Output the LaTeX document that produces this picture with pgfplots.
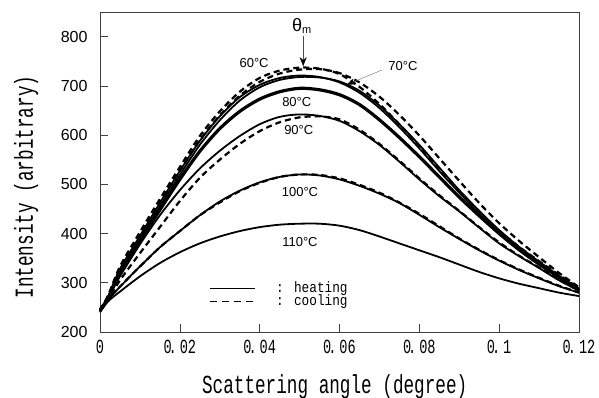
\documentclass[border=0pt]{standalone}
\usepackage{pgfplots}
\pgfplotsset{compat=1.18}
\usepackage{pgfplotstable}
\usetikzlibrary{arrows.meta}
\usepackage{fontspec}
\setmainfont{Liberation Sans}
\newfontfamily\goth[FakeStretch=0.68]{Liberation Mono}
\newfontfamily\gothl[FakeStretch=0.85]{Liberation Mono}

\pgfplotstableread{
x     h60  c60  h70  c70  h80  h90  c90  h100 c100 h110
0     245  245  245  245  245  243  243  242  242  240
0.002 272  274  270  272  268  268  265  265  265  262
0.005 328  333  325  328  322  313  305  292  292  282
0.01  395  403  390  395  385  378  360  333  333  313
0.015 462  470  455  462  448  437  413  372  372  340
0.02  527  535  519  527  510  488  466  405  405  362
0.025 588  598  580  590  567  532  513  437  437  380
0.03  638  648  630  640  613  568  550  465  463  394
0.035 677  688  670  680  648  598  582  487  486  405
0.04  702  716  697  708  673  622  608  504  503  413
0.045 716  731  712  725  688  637  626  515  515  418
0.05  721  737  718  733  695  642  636  520  520  420
0.055 718  735  717  734  692  639  638  518  519  420
0.06  707  724  709  726  682  629  632  510  512  416
0.065 686  698  690  707  662  608  611  497  499  407
0.07  655  663  660  678  631  580  582  481  483  394
0.075 616  622  622  641  595  546  548  462  463  380
0.08  573  578  580  599  556  510  512  438  440  366
0.085 527  532  534  553  515  476  478  413  415  352
0.09  483  487  488  507  474  445  446  389  390  337
0.095 441  445  446  462  436  412  413  366  367  322
0.1   403  406  407  421  400  380  382  345  346  309
0.105 370  373  373  385  367  354  355  326  327  298
0.11  341  344  343  352  338  330  331  309  310  289
0.115 313  316  314  320  311  305  306  293  294  280
0.12  287  289  288  291  286  284  284  280  280  273
}\data

\begin{document}
\begin{tikzpicture}
\begin{axis}[
  scale only axis, width=479pt, height=320pt,
  at={(0,0)}, anchor=south west,
  xmin=0, xmax=0.12, ymin=200, ymax=850,
  xtick={0,0.02,0.04,0.06,0.08,0.1,0.12},
  xticklabels={0,0\kern-0.15em.\kern0.15em02,0\kern-0.15em.\kern0.15em04,0\kern-0.15em.\kern0.15em06,0\kern-0.15em.\kern0.15em08,0\kern-0.15em.\kern0.15em1,0\kern-0.15em.\kern0.15em12},
  ytick={200,300,400,500,600,700,800},
  tick align=inside, xtick pos=bottom, ytick pos=left,
  major tick length=8pt,
  axis line style={black!75, line width=0.6pt},
  tick style={black!75, line width=0.6pt},
  /pgf/number format/assume math mode=true,
  yticklabel style={font=\fontsize{16}{16}\selectfont, xshift=-9pt},
  xticklabel style={font=\goth\fontsize{20}{20}\selectfont, yshift=-5pt},
  xlabel={Scattering angle (degree)},
  ylabel={Intensity (arbitrary)},
  xlabel style={font=\goth\fontsize{26}{26}\selectfont, at={(axis description cs:0.49,0)}, anchor=base, yshift=-61pt},
  ylabel style={font=\goth\fontsize{26}{26}\selectfont, at={(axis description cs:0,0.453)}, anchor=base, rotate=0, yshift=67pt},
  clip=false,
]
\addplot[black, line width=1.8pt, smooth] table[x=x,y=h110] {\data};
\addplot[black, line width=1.8pt, smooth] table[x=x,y=h100] {\data};
\addplot[black, line width=2.2pt, smooth, dash pattern=on 6pt off 4pt] table[x=x,y=c100] {\data};
\addplot[black, line width=1.8pt, smooth] table[x=x,y=h90] {\data};
\addplot[black, line width=2.2pt, smooth, dash pattern=on 6pt off 4pt] table[x=x,y=c90] {\data};
\addplot[black, line width=3.2pt, smooth] table[x=x,y=h80] {\data};
\addplot[black, line width=1.8pt, smooth] table[x=x,y=h70] {\data};
\addplot[black, line width=2.2pt, smooth, dash pattern=on 6pt off 4pt] table[x=x,y=c70] {\data};
\addplot[black, line width=1.8pt, smooth] table[x=x,y=h60] {\data};
\addplot[black, line width=2.2pt, smooth, dash pattern=on 6pt off 4pt] table[x=x,y=c60] {\data};

\node[font=\fontsize{13}{13}\selectfont] at (axis cs:0.0386,746) {60°C};
\node[font=\fontsize{13}{13}\selectfont] at (axis cs:0.0759,740) {70°C};
\node[font=\fontsize{13}{13}\selectfont] at (axis cs:0.0493,667) {80°C};
\node[font=\fontsize{13}{13}\selectfont] at (axis cs:0.0498,610) {90°C};
\node[font=\fontsize{13}{13}\selectfont] at (axis cs:0.0501,484) {100°C};
\node[font=\fontsize{13}{13}\selectfont] at (axis cs:0.0501,383) {110°C};
\node[font=\fontsize{18}{18}\selectfont] at (axis cs:0.0506,822) {θ\textsubscript{\fontsize{11}{11}\selectfont m}};
\draw[black!70, line width=0.4pt, -{Stealth[length=9pt,width=7pt,black]}] (axis cs:0.0509,802) -- (axis cs:0.0509,740);
\draw[black!60, line width=0.4pt, -{Stealth[length=9pt,width=6pt,black]}] (axis cs:0.0706,732) -- (axis cs:0.0617,702);

\draw[black, line width=1pt] (axis cs:0.0276,289) -- (axis cs:0.0388,289);
\draw[black, line width=1pt, dash pattern=on 7pt off 5pt] (axis cs:0.0276,261) -- (axis cs:0.0392,261);
\node[anchor=west, font=\gothl\fontsize{15}{15}\selectfont, inner sep=0pt] at (axis cs:0.0441,289) {: heating};
\node[anchor=west, font=\gothl\fontsize{15}{15}\selectfont, inner sep=0pt] at (axis cs:0.0441,261) {: cooling};
\end{axis}
\pgfresetboundingbox
\path[use as bounding box] (-100pt,-65pt) rectangle (499pt,332pt);
\end{tikzpicture}
\end{document}
